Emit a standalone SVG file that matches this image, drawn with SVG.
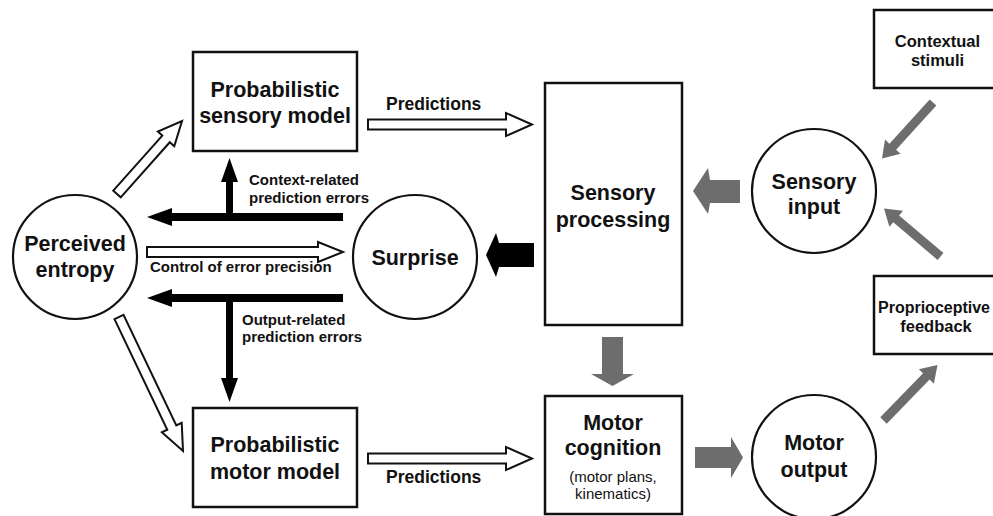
<svg xmlns="http://www.w3.org/2000/svg" width="993" height="516" viewBox="0 0 993 516">
  <style>
    text { font-family: "Liberation Sans", Arial, sans-serif; font-weight: bold; fill: #111; text-anchor: middle; }
    .big { font-size: 21.5px; }
    .mid { font-size: 16.5px; }
    .lbl { font-size: 15px; text-anchor: start; }
    .pred { font-size: 17.5px; text-anchor: start; }
    .note { font-size: 15px; font-weight: normal; }
    .box { fill: #fff; stroke: #111; stroke-width: 2.5; }
    .node { fill: #fff; stroke: #111; stroke-width: 2.2; }
    .hollow { fill: #fff; stroke: #111; stroke-width: 2; stroke-linejoin: miter; }
    .solid { fill: #000; stroke: none; }
    .grey { fill: #6d6d6d; stroke: none; }
  </style>

  <rect width="993" height="516" fill="#fff"/>

  <!-- nodes -->
  <g id="sensory-model">
    <rect class="box" x="193" y="52" width="164" height="99"/>
    <text class="big" x="275" y="97">Probabilistic</text>
    <text class="big" x="275" y="123">sensory model</text>
  </g>

  <g id="motor-model">
    <rect class="box" x="193" y="408" width="164" height="99"/>
    <text class="big" x="275" y="452">Probabilistic</text>
    <text class="big" x="275" y="479">motor model</text>
  </g>

  <g id="perceived-entropy">
    <circle class="node" cx="75" cy="257" r="62"/>
    <text class="big" x="75" y="251">Perceived</text>
    <text class="big" x="75" y="277">entropy</text>
  </g>

  <g id="surprise">
    <circle class="node" cx="415" cy="257" r="62"/>
    <text class="big" x="415" y="265">Surprise</text>
  </g>

  <g id="sensory-processing">
    <rect class="box" x="545" y="83" width="137" height="242"/>
    <text class="big" x="613" y="200">Sensory</text>
    <text class="big" x="613" y="227">processing</text>
  </g>

  <g id="motor-cognition">
    <rect class="box" x="545" y="396" width="137" height="118"/>
    <text class="big" x="613" y="430">Motor</text>
    <text class="big" x="613" y="455">cognition</text>
    <text class="note" x="613" y="482">(motor plans,</text>
    <text class="note" x="613" y="499">kinematics)</text>
  </g>

  <g id="sensory-input">
    <circle class="node" cx="814" cy="191" r="62"/>
    <text class="big" x="814" y="189">Sensory</text>
    <text class="big" x="814" y="214">input</text>
  </g>

  <g id="motor-output">
    <circle class="node" cx="814" cy="457" r="62"/>
    <text class="big" x="814" y="450">Motor</text>
    <text class="big" x="814" y="477">output</text>
  </g>

  <g id="contextual-stimuli">
    <rect class="box" x="874" y="10" width="130" height="78"/>
    <text class="mid" x="937.5" y="47">Contextual</text>
    <text class="mid" x="937.5" y="66">stimuli</text>
  </g>

  <g id="proprioceptive-feedback">
    <rect class="box" x="874" y="276" width="130" height="78"/>
    <text class="mid" x="934" y="313" style="font-size:16px">Proprioceptive</text>
    <text class="mid" x="936" y="332">feedback</text>
  </g>

  <!-- connectors -->
  <g id="connectors">
    <!-- entropy to the two models -->
    <polygon class="hollow" points="120.74,197.33 169.78,142.26 174.26,146.25 182,121 157.82,131.61 162.30,135.60 113.26,190.67"/>
    <polygon class="hollow" points="114.49,319.16 167.28,429.70 161.87,432.28 183,451 181.71,422.80 176.30,425.38 123.51,314.84"/>

    <!-- control of error precision -->
    <polygon class="hollow" points="147,247 318,247 318,242 343,252 318,262 318,257 147,257"/>

    <!-- predictions -->
    <polygon class="hollow" points="368,119.5 506,119.5 506,113 532,124.5 506,136 506,129.5 368,129.5"/>
    <polygon class="hollow" points="368,453.5 506,453.5 506,447 532,458.5 506,470 506,463.5 368,463.5"/>

    <!-- prediction errors -->
    <polygon class="solid" points="343,213 233,213 233,182 238,182 229.5,158 221,182 226,182 226,213 172,213 172,208 147,217 172,226 172,221 343,221"/>
    <polygon class="solid" points="343,294 172,294 172,289 147,298 172,307 172,302 226,302 226,378 221,378 229.5,402 238,378 233,378 233,302 343,302"/>

    <!-- sensory processing to surprise -->
    <polygon class="solid" points="534,243 499,243 496,233 486,255 496,277 499,267 534,267"/>

    <!-- sensorimotor loop -->
    <polygon class="grey" points="740,180 710,180 708,168 693,191 708,214 710,203 740,203"/>
    <polygon class="grey" points="602,337 623,337 623,374 634,374 612.5,386 591,374 602,374"/>
    <polygon class="grey" points="695,447 731,447 731,437 743,457.5 731,478 731,468 695,468"/>
    <polygon class="grey" points="936.33,105.53 896.10,149.70 900.53,153.74 882,158.5 885.01,139.60 889.44,143.64 929.67,99.47"/>
    <polygon class="grey" points="943.41,253.07 899.10,215.43 902.99,210.86 884,208.5 889.39,226.86 893.28,222.29 937.59,259.93"/>
    <polygon class="grey" points="886.73,423.64 929.57,379.61 933.87,383.79 937.5,365 918.81,369.15 923.11,373.33 880.27,417.36"/>
  </g>

  <!-- connector labels -->
  <g id="labels">
    <text class="pred" x="386" y="110">Predictions</text>
    <text class="pred" x="386" y="483">Predictions</text>
    <text class="lbl" x="249" y="185">Context-related</text>
    <text class="lbl" x="249" y="203">prediction errors</text>
    <text class="lbl" x="150" y="272">Control of error precision</text>
    <text class="lbl" x="242" y="325">Output-related</text>
    <text class="lbl" x="242" y="342">prediction errors</text>
  </g>
</svg>
